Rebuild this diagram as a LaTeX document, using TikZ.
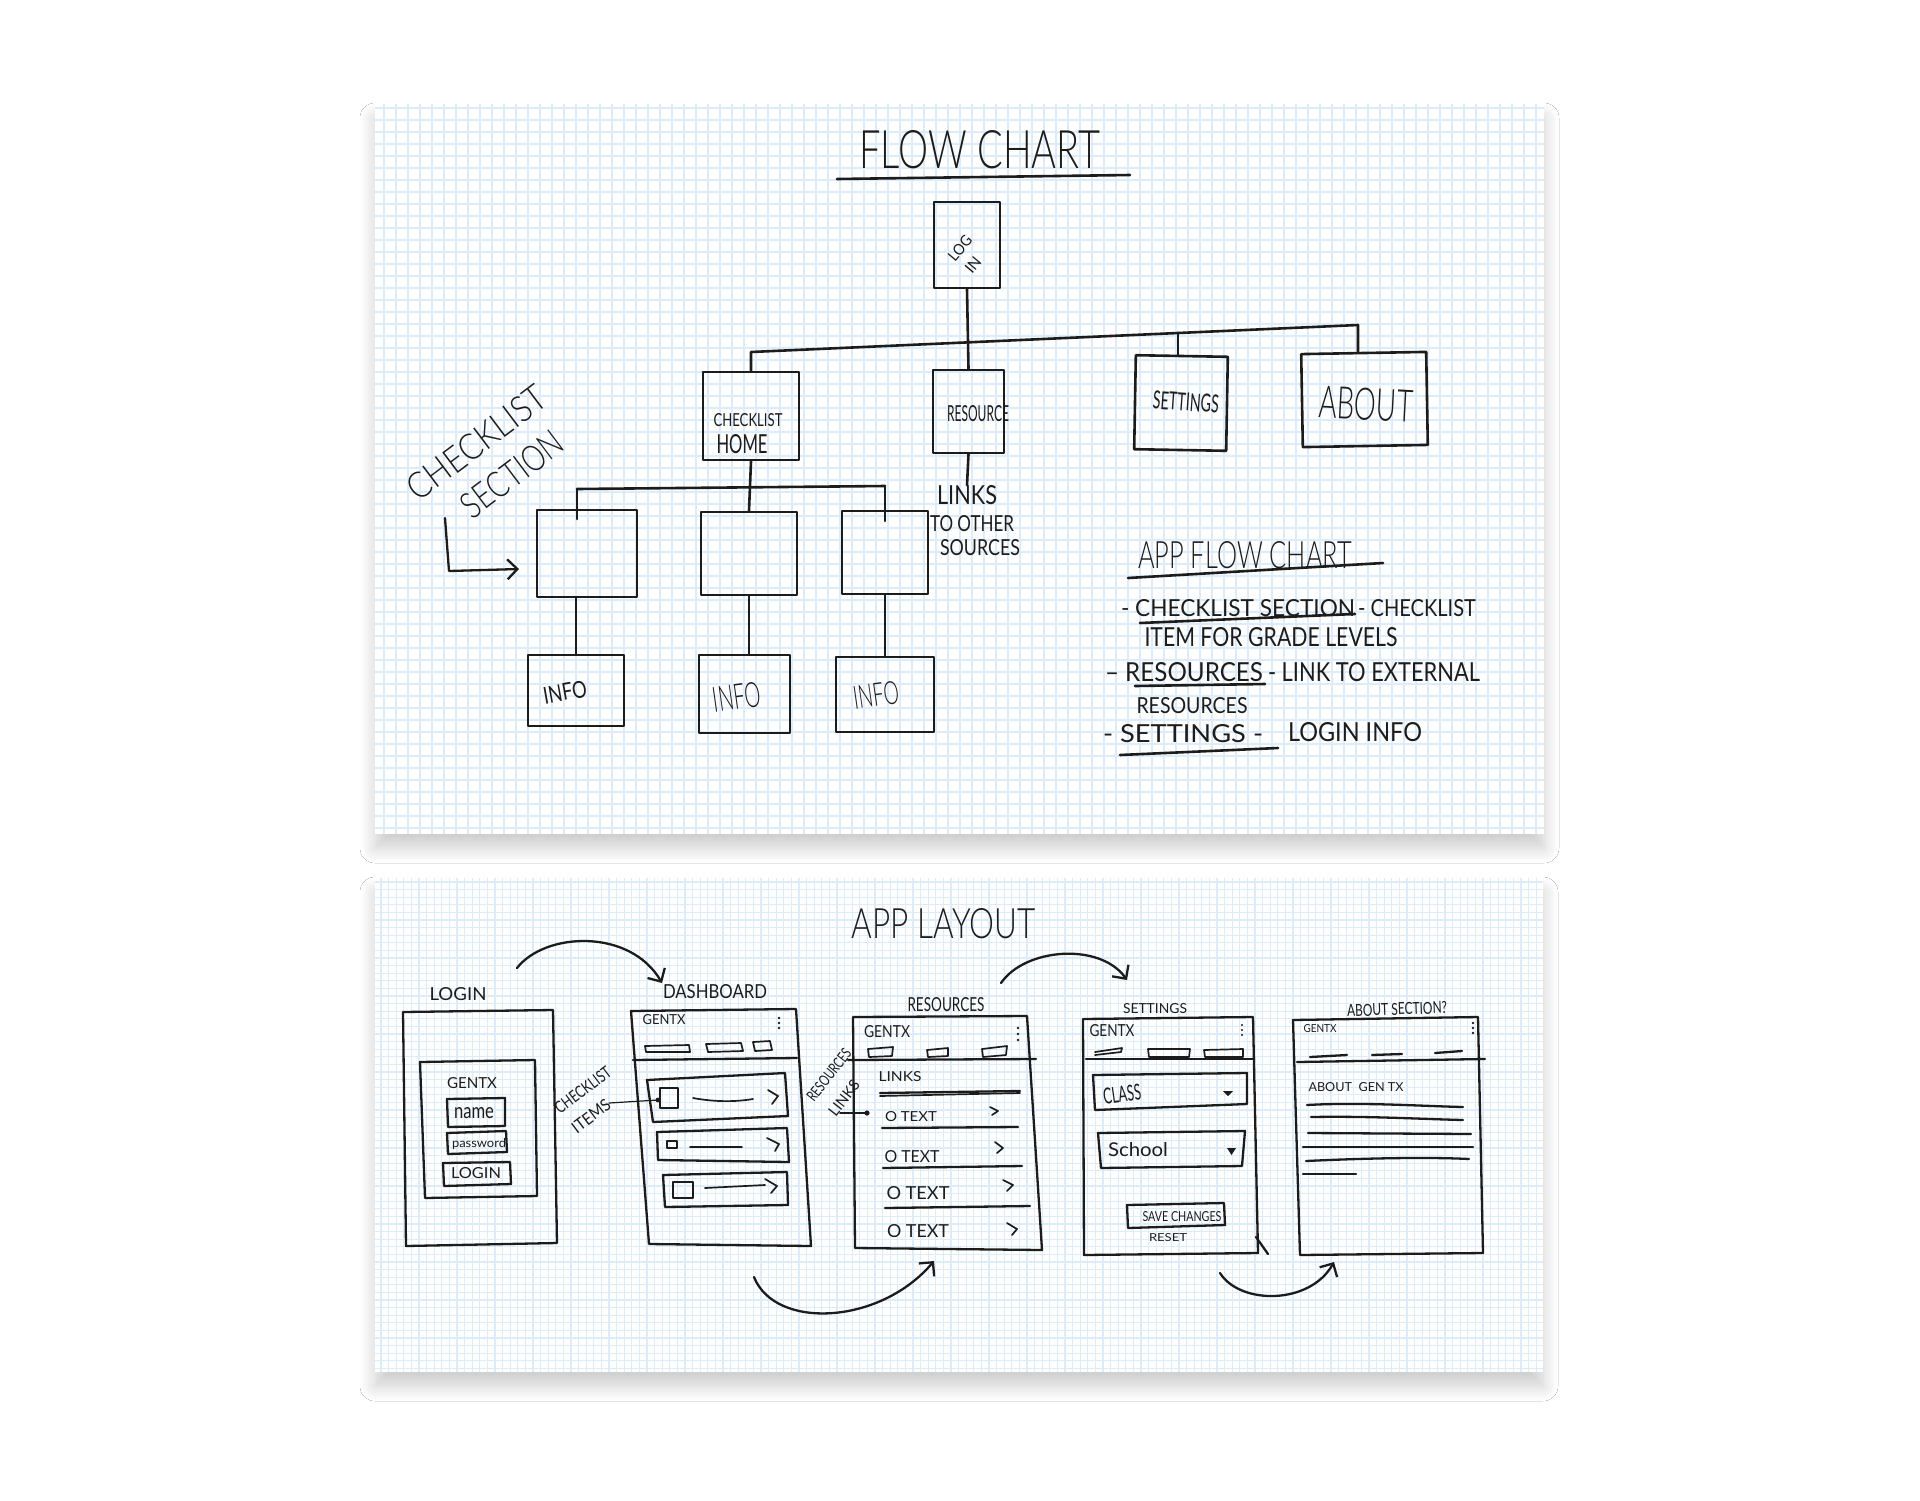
\documentclass[tikz,border=0pt]{standalone}
\usepackage{fontspec}
\setmainfont{Lato}
\newfontfamily\lightf{Lato}[UprightFont=* Light]
\usepackage{graphicx}
\usetikzlibrary{arrows.meta,shadows.blur}
\definecolor{inkc}{RGB}{28,28,28}
\definecolor{gridc}{RGB}{220,236,251}
\newcommand{\hw}[3]{\resizebox{#1pt}{#2pt}{#3}}
\newcommand{\hwl}[3]{\resizebox{#1pt}{#2pt}{\lightf #3}}
\begin{document}
\begin{tikzpicture}[x=1pt,y=-1pt,
  ink/.style={draw=inkc, line width=2.6pt, line cap=round, line join=round},
  fbox/.style={ink, rectangle, inner sep=0pt},
  lbl/.style={inner sep=0pt, text=inkc},
  two/.style={inner sep=0pt, text=inkc, align=center},
  sk/.style={draw=inkc, line width=2.3pt, line cap=round, line join=round},
  fine/.style={draw=inkc, line width=1.7pt, line cap=round, line join=round},
  hair/.style={draw=inkc, line width=1.2pt, line cap=round},
  harrow/.style={draw=inkc, line width=2.3pt, line cap=round, line join=round, -{Straight Barb[length=10pt,width=20pt]}},
  gl/.style={draw=gridc, line width=1.2pt},
  panel/.style={fill=white, blur shadow={shadow blur steps=12, shadow xshift=0pt, shadow yshift=-14pt, shadow blur radius=15pt, shadow opacity=20}}
]
\useasboundingbox (0,0) rectangle (1920,1500);
\fill[white] (0,0) rectangle (1920,1500);

% ---------- panels ----------
\fill[panel] (375,104) rectangle (1544,834);
\foreach \gx in {384,396,...,1540} \draw[gl] (\gx,104) -- (\gx,834);
\foreach \gy in {108,120,...,832} \draw[gl] (375,\gy) -- (1544,\gy);
\fill[panel] (375,878) rectangle (1543,1372);
\foreach \gx in {381,388.6,...,1542} \draw[gl] (\gx,878) -- (\gx,1372);
\foreach \gy in {882,889.6,...,1371} \draw[gl] (375,\gy) -- (1543,\gy);

% ---------- FLOW CHART ----------
\node[lbl] (title) at (980,150) {\hwl{241}{38}{FLOW CHART}};
\coordinate (tu1) at (837,179);
\coordinate (tu2) at (1130,175);
\draw[ink] (tu1) -- (tu2);

\node[fbox, minimum width=66pt, minimum height=86pt] (login) at (967,245) {};
\node[two, rotate=50] (loginT) at (968,254.7) {\hw{28}{11}{LOG}\\[8.9pt]\hw{16}{11}{IN}\hspace*{9.2pt}};

\node[fbox, minimum width=96pt, minimum height=88pt] (chome) at (751,416) {};
\node[lbl] (chomeA) at (748,420) {\hw{69}{13}{CHECKLIST}};
\node[lbl] (chomeB) at (742,444) {\hw{51}{19}{HOME}};

\node[fbox, minimum width=71pt, minimum height=83pt] (resource) at (968.5,411.5) {};
\node[lbl] (resourceT) at (978,414) {\hw{62}{16}{RESOURCE}};

\node[fbox, minimum width=92pt, minimum height=94pt, rotate=-1] (settings) at (1181,403) {};
\node[lbl, rotate=-4] (settingsT) at (1186,402) {\hw{66}{18}{SETTINGS}};

\node[fbox, minimum width=125pt, minimum height=93pt, rotate=1] (about) at (1364.5,399.5) {};
\node[lbl, rotate=-3] (aboutT) at (1366,404) {\hwl{94}{32}{ABOUT}};

\coordinate (barL) at (751,352);
\coordinate (barS) at (1178,333);
\coordinate (barR) at (1358,325);
\draw[ink] (chome.north) -- (barL) -- (barR) -- (barR |- about.north);
\draw[ink] (barS) -- (barS |- settings.north);
\draw[ink] (login.south) -- (resource.north);

\node[fbox, minimum width=100pt, minimum height=87pt] (boxA) at (587,553.5) {};
\node[fbox, minimum width=96pt, minimum height=83pt] (boxB) at (749,553.5) {};
\node[fbox, minimum width=86pt, minimum height=83pt] (boxC) at (885,552.5) {};

\coordinate (sbL) at (577,489);
\coordinate (sbR) at (885,486);
\draw[ink] (chome.south) -- (boxB.north);
\draw[ink] (sbL) -- (sbR);
\draw[ink] (sbL) -- ++(0,30);
\draw[ink] (sbR) -- ++(0,35);

\node[fbox, minimum width=96pt, minimum height=71pt] (info1) at (576,690.5) {};
\node[fbox, minimum width=91pt, minimum height=78pt] (info2) at (744.5,694) {};
\node[fbox, minimum width=98pt, minimum height=75pt] (info3) at (885,694.5) {};
\node[lbl, rotate=10] (info1T) at (565,692) {\hw{44}{17}{INFO}};
\node[lbl, rotate=8] (info2T) at (737,697) {\hwl{48}{25}{INFO}};
\node[lbl, rotate=8] (info3T) at (876,695) {\hwl{46}{23}{INFO}};

\draw[ink] (info1.north |- boxA.south) -- (info1.north);
\draw[ink] (boxB.south) -- (boxB.south |- info2.north);
\draw[ink] (boxC.south) -- (info3.north);

\node[lbl] (links) at (967,495) {\hw{60}{19}{LINKS}};
\node[lbl] (toother) at (972,524) {\hw{84}{16}{TO OTHER}};
\node[lbl] (sources) at (980,548) {\hw{80}{16}{SOURCES}};
\draw[ink] (resource.south) -- (links.north);

\node[two, rotate=37] (cs) at (490.8,461.4) {\hwl{165}{26}{CHECKLIST}\\[19pt]\hspace*{18.6pt}\hwl{118}{26}{SECTION}};
\coordinate (csP) at (445,518);
\coordinate (csQ) at (449,571);
\coordinate (csR) at (519,569);
\draw[harrow] (csP) -- (csQ) -- (csR);

% legend
\node[lbl] (apc) at (1245,555) {\hwl{214}{27}{APP FLOW CHART}};
\coordinate (apu1) at (1128,578);
\coordinate (apu2) at (1383,563);
\draw[ink] (apu1) -- (apu2);
\node[lbl] (l1a) at (1238,608) {\hw{234}{17}{- CHECKLIST SECTION}};
\node[lbl] (l1b) at (1417,608) {\hw{118}{17}{- CHECKLIST}};
\draw[ink] (1140,623) -- (1355,614);
\node[lbl] (l2) at (1271,637) {\hw{253}{19}{ITEM FOR GRADE LEVELS}};
\node[lbl] (l3a) at (1184,672) {\hw{158}{19}{– RESOURCES}};
\node[lbl] (l3b) at (1374,672) {\hw{212}{19}{- LINK TO EXTERNAL}};
\draw[ink] (1135,686) -- (1265,684);
\node[lbl] (l4) at (1192,706) {\hw{111}{16}{RESOURCES}};
\node[lbl] (l5a) at (1183,734) {\hw{160}{18}{- SETTINGS -}};
\node[lbl] (l5b) at (1355,732) {\hw{134}{19}{LOGIN INFO}};
\draw[ink] (1120,755) -- (1278,748);

% ---------- APP LAYOUT ----------
\node[lbl] (layout) at (944,924) {\hwl{184}{30}{APP LAYOUT}};

% LOGIN screen
\node[lbl] (lgLbl) at (458,994) {\hw{57}{13}{LOGIN}};
\draw[sk] (403,1012) -- (553,1010) -- (557,1243) -- (406,1246) -- cycle;
\draw[sk] (420,1062) -- (535,1060) -- (537,1196) -- (425,1198) -- cycle;
\node[lbl] (lgGen) at (472,1083) {\hw{50}{11}{GENTX}};
\draw[sk] (447,1099) -- (505,1098) -- (505,1126) -- (448,1127) -- cycle;
\node[lbl] (lgName) at (474,1113) {\hw{40}{11}{name}};
\draw[sk] (447,1133) -- (506,1131) -- (507,1152) -- (448,1154) -- cycle;
\node[lbl] (lgPw) at (479,1144) {\hw{54}{9}{password}};
\draw[sk] (443,1163) -- (510,1162) -- (511,1184) -- (444,1186) -- cycle;
\node[lbl] (lgBtn) at (476,1173) {\hw{50}{11}{LOGIN}};

% DASHBOARD screen
\node[lbl] (dbLbl) at (715,992) {\hw{104}{14}{DASHBOARD}};
\draw[sk] (631,1011) -- (796,1009) -- (811,1246) -- (649,1244) -- cycle;
\node[lbl] (dbGen) at (664,1020) {\hw{43}{10}{GENTX}};
\fill[inkc] (779,1018) circle (1.3pt) (779,1023) circle (1.3pt) (779,1028) circle (1.3pt);
\draw[fine] (645,1046) -- (689,1045) -- (690,1052) -- (646,1052) -- cycle;
\draw[fine] (706,1044) -- (741,1043) -- (743,1051) -- (708,1052) -- cycle;
\draw[fine] (753,1042) -- (770,1041) -- (772,1050) -- (755,1051) -- cycle;
\draw[sk] (633,1060) -- (797,1058);
\draw[sk] (647,1080) -- (785,1073) -- (788,1116) -- (653,1122) -- cycle;
\draw[fine] (660,1088) rectangle (678,1108);
\fill[inkc] (658,1100) circle (2.4pt);
\draw[fine] (693,1098) .. controls (715,1102) and (735,1102) .. (753,1099);
\draw[fine] (768,1090) -- (778,1096) -- (772,1104);
\draw[sk] (657,1132) -- (787,1128) -- (789,1162) -- (658,1160) -- cycle;
\draw[fine] (667,1141) rectangle (677,1148);
\draw[fine] (690,1147) -- (742,1147);
\draw[fine] (767,1138) -- (779,1144) -- (775,1151);
\draw[sk] (663,1175) -- (787,1172) -- (788,1205) -- (665,1207) -- cycle;
\draw[fine] (673,1182) rectangle (693,1198);
\draw[fine] (705,1188) -- (765,1185);
\draw[fine] (765,1179) -- (777,1186) -- (771,1193);
\node[two, rotate=37] (ck) at (590.7,1100.2) {\hw{66}{12}{CHECKLIST}\\[12.6pt]\hw{44}{12}{ITEMS}\hspace*{18.6pt}};
\coordinate (ckEnd) at (609,1103);
\coordinate (ckDot) at (658,1100);
\draw[hair] (ckEnd) -- (ckDot);

% RESOURCES screen
\node[lbl] (rsLbl) at (946,1005) {\hw{77}{14}{RESOURCES}};
\draw[sk] (853,1017) -- (1027,1016) -- (1042,1250) -- (855,1248) -- cycle;
\node[lbl] (rsGen) at (887,1032) {\hw{46}{12}{GENTX}};
\fill[inkc] (1018,1028) circle (1.3pt) (1018,1034) circle (1.3pt) (1018,1040) circle (1.3pt);
\draw[fine] (868,1049) -- (893,1047) -- (892,1056) -- (869,1057) -- cycle;
\draw[fine] (927,1050) -- (948,1048) -- (948,1056) -- (928,1057) -- cycle;
\draw[fine] (982,1049) -- (1007,1046) -- (1006,1055) -- (983,1057) -- cycle;
\draw[sk] (848,1060) -- (1036,1059);
\node[lbl] (rsLinks) at (900,1077) {\hw{43}{10}{LINKS}};
\draw[sk] (880,1093) -- (1020,1091);
\draw[fine] (880,1096) -- (1020,1093);
\node[lbl] (rsT1) at (911,1117) {\hw{52}{10}{O TEXT}};
\node[lbl] (rsT2) at (912,1157) {\hw{55}{12}{O TEXT}};
\node[lbl] (rsT3) at (918,1193) {\hw{63}{13}{O TEXT}};
\node[lbl] (rsT4) at (918,1231) {\hw{62}{13}{O TEXT}};
\draw[fine] (990,1107) -- (998,1111) -- (992,1115);
\draw[fine] (995,1142) -- (1003,1148) -- (997,1153);
\draw[fine] (1003,1180) -- (1013,1185) -- (1007,1191);
\draw[fine] (1007,1223) -- (1017,1229) -- (1012,1235);
\draw[sk] (882,1128) -- (1018,1127);
\draw[sk] (883,1168) -- (1022,1166);
\draw[sk] (885,1208) -- (1030,1206);
\node[two, rotate=52] (rl) at (839.2,1083) {\hw{62}{11}{RESOURCES}\\[14pt]\hw{40}{11}{LINKS}\hspace*{17.8pt}};
\coordinate (rlStart) at (840,1113);
\coordinate (rlDot) at (867,1113);
\draw[sk, line width=1.8pt] (rlStart) -- (rlDot);
\fill[inkc] (rlDot) circle (2.6pt);

% SETTINGS screen
\node[lbl] (stLbl) at (1155,1009) {\hw{64}{10}{SETTINGS}};
\draw[sk] (1083,1019) -- (1253,1017) -- (1258,1253) -- (1084,1255) -- cycle;
\draw[sk] (1256,1237) -- (1268,1254);
\node[lbl] (stGen) at (1112,1031) {\hw{45}{12}{GENTX}};
\fill[inkc] (1242,1025) circle (1.1pt) (1242,1030) circle (1.1pt) (1242,1035) circle (1.1pt);
\draw[fine] (1095,1052) -- (1122,1048) -- (1121,1052) -- (1095,1055);
\draw[fine] (1148,1049) -- (1190,1049) -- (1189,1057) -- (1149,1057) -- cycle;
\draw[fine] (1204,1050) -- (1243,1049) -- (1243,1057) -- (1205,1057) -- cycle;
\draw[sk] (1086,1059) -- (1254,1059);
\draw[sk] (1093,1075) -- (1247,1073) -- (1247,1104) -- (1095,1110) -- cycle;
\node[lbl, rotate=8] (stClass) at (1122,1094) {\hw{38}{16}{CLASS}};
\fill[inkc] (1223,1091) -- (1233,1091) -- (1228,1096) -- cycle;
\draw[sk] (1098,1133) -- (1245,1131) -- (1242,1166) -- (1101,1168) -- cycle;
\node[lbl] (stSchool) at (1138,1150) {\hw{60}{14}{School}};
\fill[inkc] (1227,1148) -- (1236,1148) -- (1231.5,1155) -- cycle;
\draw[sk] (1127,1205) -- (1224,1203) -- (1225,1225) -- (1128,1228) -- cycle;
\node[lbl] (stSave) at (1182,1217) {\hw{79}{10}{SAVE CHANGES}};
\node[lbl] (stReset) at (1168,1238) {\hw{38}{8}{RESET}};

% ABOUT screen
\node[lbl, rotate=2] (abLbl) at (1397,1009) {\hw{100}{12}{ABOUT SECTION?}};
\draw[sk] (1293,1020) -- (1478,1017) -- (1483,1253) -- (1300,1255) -- cycle;
\node[lbl] (abGen) at (1320,1029) {\hw{33}{8}{GENTX}};
\fill[inkc] (1473,1023) circle (1.3pt) (1473,1028) circle (1.3pt) (1473,1033) circle (1.3pt);
\draw[sk] (1310,1057) -- (1347,1055);
\draw[sk] (1372,1055) -- (1402,1054);
\draw[sk] (1435,1053) -- (1462,1051);
\draw[sk] (1297,1062) -- (1485,1059);
\node[lbl] (abHead) at (1356,1087) {\hw{95}{9}{ABOUT\ \ GEN TX}};
\draw[sk] (1307,1105) .. controls (1360,1102) and (1420,1106) .. (1463,1107);
\draw[sk] (1311,1117) .. controls (1370,1116) and (1420,1119) .. (1463,1120);
\draw[sk] (1308,1133) -- (1471,1134);
\draw[sk] (1303,1147) -- (1473,1147);
\draw[sk] (1306,1161) .. controls (1370,1158) and (1430,1157) .. (1469,1159);
\draw[sk] (1303,1174) -- (1356,1174);

% curved arrows
\coordinate (a1s) at (517,968);
\coordinate (a1e) at (662,983);
\draw[harrow] (a1s) .. controls (545,932) and (630,928) .. (a1e);
\coordinate (a2s) at (1001,983);
\coordinate (a2e) at (1127,980);
\draw[harrow] (a2s) .. controls (1025,948) and (1100,942) .. (a2e);
\coordinate (a3s) at (754,1277);
\coordinate (a3e) at (934,1261);
\draw[harrow] (a3s) .. controls (775,1330) and (880,1325) .. (a3e);
\coordinate (a4s) at (1220,1273);
\coordinate (a4e) at (1334,1262);
\draw[harrow] (a4s) .. controls (1240,1305) and (1310,1305) .. (a4e);
\end{tikzpicture}
\end{document}
